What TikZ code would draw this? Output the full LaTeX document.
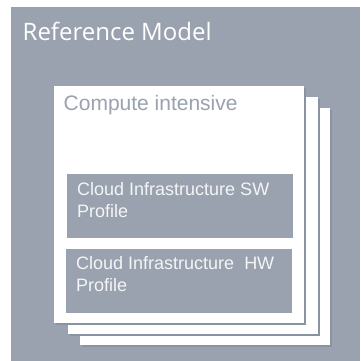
\documentclass[tikz,border=0pt]{standalone}
\usepackage{fontspec}
\usepackage{xcolor}
\setmainfont{Liberation Sans}
\newfontfamily\headfont{Open Sans}
\definecolor{RMGray}{HTML}{99A2AE}
\definecolor{RMShade}{HTML}{8A94A1}
\definecolor{RMText}{HTML}{F4F5F7}

\begin{document}
\begin{tikzpicture}[x = 1pt, y = -1pt]
    \useasboundingbox (0, 0) rectangle (360, 361);

    \coordinate (RM)  at ( 11,   7);
    \coordinate (RME) at (360, 361);

    \fill[RMGray] (RM) rectangle (RME);

    % stacked profile cards, back to front
    \foreach \dx/\dy in {26/22, 14/11, 0/0} {
        \fill[RMShade] (55.8 + \dx, 87.5 + \dy) rectangle (305.8 + \dx, 324.8 + \dy);
        \fill[white]   (54.3 + \dx, 86   + \dy) rectangle (304.3 + \dx, 323.3 + \dy);
    }

    \fill[RMGray] ( 67, 173.7) rectangle (293, 237.7);
    \fill[RMGray] ( 66, 248.7) rectangle (292, 312.7);

    \begin{scope}[
        every node/.style = {
            anchor    = base west,
            inner sep = 0pt,
            align     = left,
        }
    ]
        \node (model)   at (22.5,  40.7) [text = white,
            font = \headfont\fontsize{24}{28}\selectfont] {Reference Model};
        \node (compute) at (63.5, 110.5) [text = RMGray,
            font = \fontsize{21}{25}\selectfont] {Compute intensive};
        \node (swprof)  at (77,   217.7) [text = RMText,
            font = \fontsize{18}{22}\selectfont] {Cloud Infrastructure SW\\Profile};
        \node (hwprof)  at (76,   291)   [text = RMText,
            font = \fontsize{18}{22}\selectfont] {Cloud Infrastructure\ \ HW\\Profile};
    \end{scope}
\end{tikzpicture}
\end{document}
